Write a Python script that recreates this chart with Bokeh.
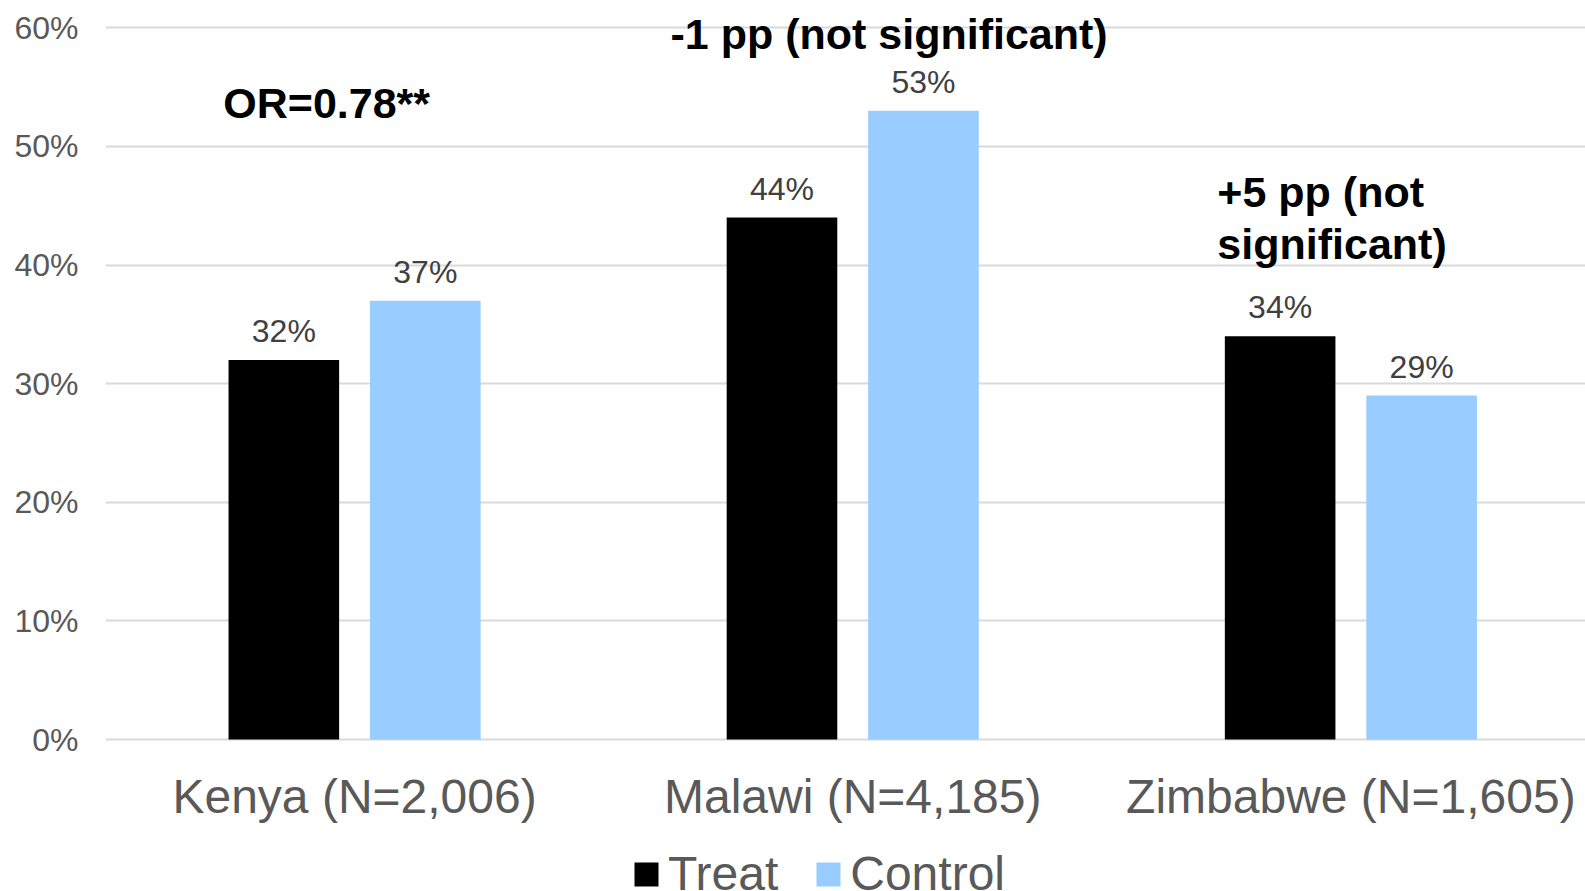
from bokeh.plotting import figure
from bokeh.layouts import column
from bokeh.models import (ColumnDataSource, Range1d, FixedTicker, NumeralTickFormatter,
                          Legend, LegendItem)
from bokeh.core.properties import value
from bokeh.embed import file_html
from bokeh.resources import INLINE

# Share of respondents by country and arm
countries = ["Kenya", "Malawi", "Zimbabwe"]
sample_sizes = ["2,006", "4,185", "1,605"]
treat = [0.32, 0.44, 0.34]
control = [0.37, 0.53, 0.29]
arms = ["Treat", "Control"]
arm_colors = ["#000000", "#99CCFF"]

# Effect annotations per country
effects = ["OR=0.78**", "-1 pp (not significant)", "+5 pp (not\nsignificant)"]

FONT = "Liberation Sans"
BAR_W = 0.222
OFFSET = 0.142
W = 1585

pos = [i + 0.5 for i in range(len(countries))]
cat_labels = {p: f"{c} (N={n})" for p, c, n in zip(pos, countries, sample_sizes)}

treat_src = ColumnDataSource(dict(
    x=[p - OFFSET for p in pos], top=treat, label=[f"{v:.0%}" for v in treat]))
ctrl_src = ColumnDataSource(dict(
    x=[p + OFFSET for p in pos], top=control, label=[f"{v:.0%}" for v in control]))

p = figure(width=W, height=846, output_backend="svg", toolbar_location=None,
           x_range=Range1d(0, 2.971), y_range=Range1d(-0.005, 0.623),
           min_border_left=105, min_border_right=0, min_border_top=0,
           min_border_bottom=101)
p.outline_line_color = None
p.background_fill_color = "white"
p.border_fill_color = "white"

for src, color in zip((treat_src, ctrl_src), arm_colors):
    p.vbar(x="x", top="top", width=BAR_W, bottom=0, source=src,
           fill_color=color, line_color=None)
    p.text(x="x", y="top", text="label", source=src, text_align="center",
           text_baseline="middle", y_offset=-29, text_color="#404040",
           text_font=value(FONT), text_font_size="32px")

# Effect notes above each country group
note_src = ColumnDataSource(dict(
    x=[0.444, 1.573, 2.232], y=[0.537, 0.595, 0.440], text=effects,
    align=["center", "center", "left"]))
p.text(x="x", y="y", text="text", source=note_src, text_align="align",
       text_baseline="middle", text_color="black", text_font=value(FONT),
       text_font_style="bold", text_font_size="43px", text_line_height=1.08)

# Axes
p.yaxis.ticker = FixedTicker(ticks=[0, 0.1, 0.2, 0.3, 0.4, 0.5, 0.6])
p.yaxis.formatter = NumeralTickFormatter(format="0%")
p.yaxis.axis_line_color = None
p.yaxis.major_tick_line_color = None
p.yaxis.minor_tick_line_color = None
p.yaxis.major_tick_in = 0
p.yaxis.major_tick_out = 0
p.yaxis.major_label_standoff = 27
p.yaxis.major_label_text_font = FONT
p.yaxis.major_label_text_font_size = "32px"
p.yaxis.major_label_text_color = "#595959"

p.xaxis.ticker = FixedTicker(ticks=pos)
p.xaxis.major_label_overrides = cat_labels
p.xaxis.axis_line_color = None
p.xaxis.major_tick_line_color = None
p.xaxis.minor_tick_line_color = None
p.xaxis.major_tick_in = 0
p.xaxis.major_tick_out = 0
p.xaxis.major_label_standoff = 24
p.xaxis.major_label_text_font = FONT
p.xaxis.major_label_text_font_size = "48px"
p.xaxis.major_label_text_color = "#595959"

p.xgrid.grid_line_color = None
p.ygrid.ticker = FixedTicker(ticks=[0, 0.1, 0.2, 0.3, 0.4, 0.5, 0.6])
p.ygrid.grid_line_color = "#D9D9D9"
p.ygrid.grid_line_width = 2

# Legend strip under the chart (swatch renderers have zero height, so only the legend shows)
leg_fig = figure(width=W, height=45, output_backend="svg", toolbar_location=None,
                 x_range=Range1d(0, 1), y_range=Range1d(0, 1),
                 x_axis_location=None, y_axis_location=None,
                 min_border_left=0, min_border_right=0, min_border_top=0,
                 min_border_bottom=0)
leg_fig.outline_line_color = None
leg_fig.background_fill_color = "white"
leg_fig.border_fill_color = "white"
leg_fig.grid.visible = False
items = []
for arm, color in zip(arms, arm_colors):
    r = leg_fig.vbar(x=[0.5], top=[0], bottom=[0], width=0.1,
                     fill_color=color, line_color=None)
    items.append(LegendItem(label=arm, renderers=[r]))
legend = Legend(items=items, orientation="horizontal", location=(526, -10),
                glyph_width=30, glyph_height=30, label_standoff=7, spacing=35,
                padding=0, margin=0, border_line_color=None,
                background_fill_alpha=0, label_text_font=FONT,
                label_text_font_size="48px", label_text_color="#595959")
leg_fig.add_layout(legend, "center")

layout = column(p, leg_fig, spacing=0)
open("out.html", "w").write(file_html(layout, INLINE))
